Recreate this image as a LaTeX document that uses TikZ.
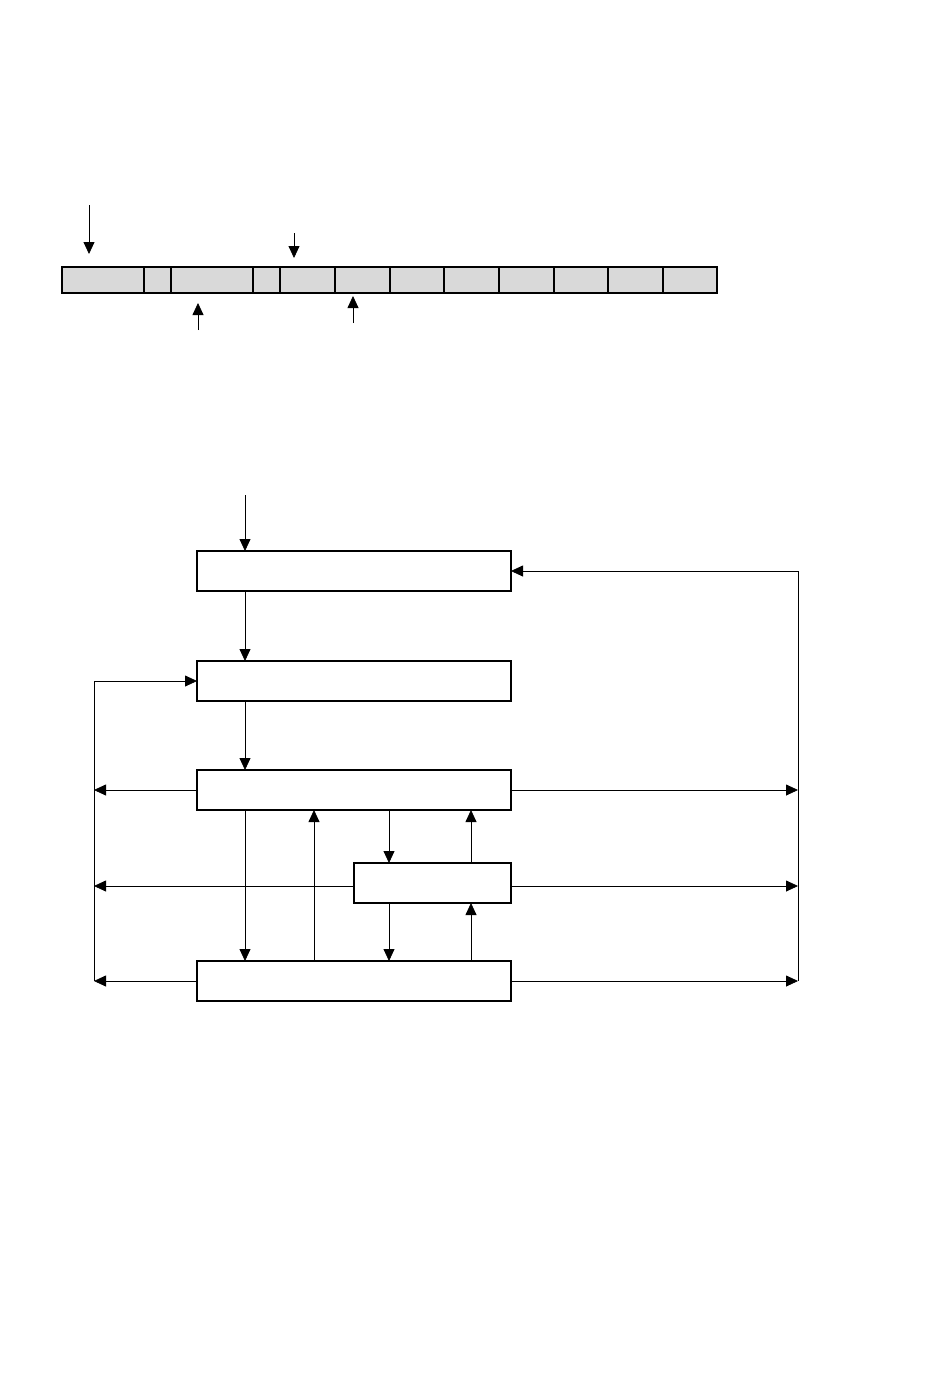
\documentclass[tikz,border=0pt]{standalone}
\usepackage{tikz}
\usetikzlibrary{arrows.meta, positioning, calc}
\definecolor{cellgray}{RGB}{217,217,217}

\begin{document}
\begin{tikzpicture}[x=1pt, y=-1pt,
    cell/.style={draw, fill=cellgray, line width=1.6pt, minimum height=26pt, inner sep=0pt, outer sep=0pt},
    block/.style={draw, line width=1.6pt, minimum height=40pt, inner sep=0pt, outer sep=0pt},
    arr/.style={line width=0.8pt, -{Triangle[length=12pt, width=11pt]}}]
        \useasboundingbox (0,0) rectangle (950,1374);
        % queue of slots
        \foreach \l/\r [count=\i] in {62/144,144/171,171/253,253/280,280/335,335/390,390/444,444/499,499/554,554/608,608/663,663/717}{
          \pgfmathsetmacro\w{\r-\l}
          \node[cell, minimum width=\w pt] (c\i) at ({(\l+\r)/2},280) {};
        }
        \coordinate (p1) at (89,205);
        \coordinate (p2) at (294,233);
        \coordinate (p3) at (198,330);
        \coordinate (p4) at (353,323);
        \draw[arr] (p1) -- ++(0,49);
        \draw[arr] (p2) -- ++(0,25);
        \draw[arr] (p3) -- ++(0,-27);
        \draw[arr] (p4) -- ++(0,-27);
        % blocks
        \node[block, minimum width=314pt] (b1) at (354,571) {};
        \node[block, minimum width=314pt] (b2) at (354,681) {};
        \node[block, minimum width=314pt] (b3) at (354,790) {};
        \node[block, minimum width=157pt] (b4) at (432.5,883) {};
        \node[block, minimum width=314pt] (b5) at (354,981) {};
        \coordinate (in) at (245,495);
        \coordinate (xa) at (314,0);
        \coordinate (xb) at (389,0);
        \coordinate (xc) at (471,0);
        \coordinate (lbus) at (94,0);
        \coordinate (rbus) at (798,0);
        \draw[arr] (in) -- (in |- b1.north);
        \draw[arr] (in |- b1.south) -- (in |- b2.north);
        \draw[arr] (in |- b2.south) -- (in |- b3.north);
        \draw[arr] (in |- b3.south) -- (in |- b5.north);
        \draw[arr] (xa |- b5.north) -- (xa |- b3.south);
        \draw[arr] (xb |- b3.south) -- (xb |- b4.north);
        \draw[arr] (xc |- b4.north) -- (xc |- b3.south);
        \draw[arr] (xb |- b4.south) -- (xb |- b5.north);
        \draw[arr] (xc |- b5.north) -- (xc |- b4.south);
        % outputs to both sides
        \foreach \b in {b3,b5}{
          \draw[arr] (\b.west) -- (\b.west -| lbus);
          \draw[arr] (\b.east) -- (\b.east -| rbus);
        }
        \draw[arr] ([yshift=-3pt]b4.west) -- ([yshift=-3pt]b4.west -| lbus);
        \draw[arr] ([yshift=-3pt]b4.east) -- ([yshift=-3pt]b4.east -| rbus);
        \draw[arr] (b5.west -| lbus) -- (b2.west -| lbus) -- (b2.west);
        \draw[arr] (b5.east -| rbus) -- (b1.east -| rbus) -- (b1.east);
      \end{tikzpicture}
\end{document}
